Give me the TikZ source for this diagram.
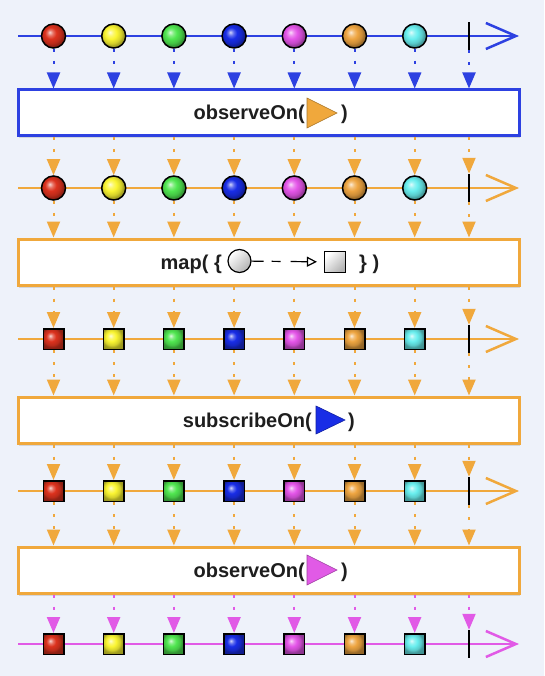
\documentclass[tikz,border=0pt]{standalone}
\usepackage{fontspec}
\setmainfont{Liberation Sans}
\usepackage{xcolor}
\usepackage{tikz}
\usetikzlibrary{arrows.meta,positioning,shadows}

\definecolor{bgcol}{RGB}{238,242,250}
\definecolor{lblue}{RGB}{45,65,225}
\definecolor{lorange}{RGB}{240,168,60}
\definecolor{lpink}{RGB}{225,90,230}
\definecolor{txtcol}{RGB}{30,30,30}
\definecolor{mred}{RGB}{220,50,30}
\definecolor{myellow}{RGB}{250,245,50}
\definecolor{mgreen}{RGB}{80,230,80}
\definecolor{mblue}{RGB}{25,45,230}
\definecolor{mpink}{RGB}{228,85,232}
\definecolor{morange}{RGB}{238,165,65}
\definecolor{mcyan}{RGB}{105,238,238}
\colorlet{mcol}{mred}
\pgfdeclareradialshading[mcol]{marb}{\pgfpoint{-8bp}{8bp}}{%
  color(0bp)=(mcol!20!white); color(6bp)=(mcol!70!white);
  color(12bp)=(mcol); color(20bp)=(mcol!85!black); color(25bp)=(mcol!65!black);
  color(50bp)=(mcol!50!black)}

\begin{document}
\begin{tikzpicture}[x=1pt, y=-1pt,
  every node/.style={font=\fontsize{20}{24}\selectfont\bfseries, text=txtcol},
  tl/.style={line width=2.5pt, -{Straight Barb[length=30pt,width=26pt]}},
  marble/.style={circle, draw=black, line width=1.5pt, minimum size=24pt, inner sep=0pt},
  sqr/.style={rectangle, draw=black, line width=1.5pt, minimum size=20.5pt, inner sep=0pt},
  endbar/.style={rectangle, fill=black, minimum width=2.5pt, minimum height=28pt, inner sep=0pt},
  opbox/.style={rectangle, fill=white, line width=3pt, minimum width=501pt,
                minimum height=46pt,
                drop shadow={shadow xshift=1pt, shadow yshift=-2.5pt, opacity=0.25}},
  conn/.style={line width=2pt, dash pattern=on 3pt off 9pt,
               -{Triangle[length=16pt,width=13pt]}},
  lbl/.style={anchor=base east, inner sep=0pt},
  lblr/.style={anchor=base west, inner sep=0pt},
  glyph/.style={draw=black, line width=1.2pt, inner sep=0pt,
                top color=white, bottom color=gray!60, shading angle=45}
]
\fill[bgcol] (0,0) rectangle (544,676);

\foreach \r/\y/\col/\shp in {a/36/lblue/marble, b/188/lorange/marble,
    c/339/lorange/sqr, d/491/lorange/sqr, e/644/lpink/sqr} {
  \coordinate (s\r) at (18,\y);
  \coordinate (e\r) at (519,\y);
  \draw[tl,\col] (s\r) -- (e\r);
  \foreach \c [count=\i] in {mred,myellow,mgreen,mblue,mpink,morange,mcyan} {
    \colorlet{mcol}{\c}
    \node[\shp, shading=marb] (\r\i) at ({53.5+60.2*(\i-1)},\y) {};
  }
  \node[endbar] (\r8) at (469,\y) {};
}

\node[opbox, draw=lblue]   (obs)   at (268.5,113) {};
\node[opbox, draw=lorange] (mapop) at (268.5,262) {};
\node[opbox, draw=lorange] (sub)   at (268.5,420) {};
\node[opbox, draw=lorange] (obs2)  at (268.5,570) {};

\node[lbl]  (obsl) at (305,120) {observeOn(};
\filldraw[fill=lorange, draw=lorange!70!black, line width=0.6pt]
  (307,98) -- (307,128) -- (337,113) -- cycle;
\node[lblr] (obsr) at (341,120) {)};

\node[lbl]  (mapl) at (222,269) {map( \{};
\node[glyph, circle, minimum size=23pt] (min) at (239.5,261) {};
\node[glyph, rectangle, minimum size=21pt] (mout) at (335,262) {};
\draw[line width=1.2pt, dash pattern=on 12pt off 8pt on 9pt off 10pt on 40pt,
      -{Triangle[open,length=10pt,width=10pt]}, shorten >=7pt] (min) -- (mout);
\node[lblr] (mapr) at (359,269) {\} )};

\node[lbl]  (subl) at (312,427) {subscribeOn(};
\filldraw[fill=mblue, draw=mblue!70!black, line width=0.6pt]
  (316,406) -- (316,434) -- (345,420) -- cycle;
\node[lblr] (subr) at (348,427) {)};

\node[lbl]  (obs2l) at (305,577) {observeOn(};
\filldraw[fill=lpink, draw=lpink!70!black, line width=0.6pt]
  (307,555) -- (307,585) -- (337,570) -- cycle;
\node[lblr] (obs2r) at (341,577) {)};

\foreach \r/\bx/\col in {a/obs/lblue, b/mapop/lorange, c/sub/lorange, d/obs2/lorange}
  \foreach \i in {1,...,8}
    \draw[conn,\col] (\r\i) -- (\r\i |- \bx.north);
\foreach \bx/\r/\col in {obs/b/lorange, mapop/c/lorange, sub/d/lorange, obs2/e/lpink}
  \foreach \i in {1,...,8}
    \draw[conn,\col] (\r\i |- \bx.south) -- (\r\i);
\end{tikzpicture}
\end{document}
